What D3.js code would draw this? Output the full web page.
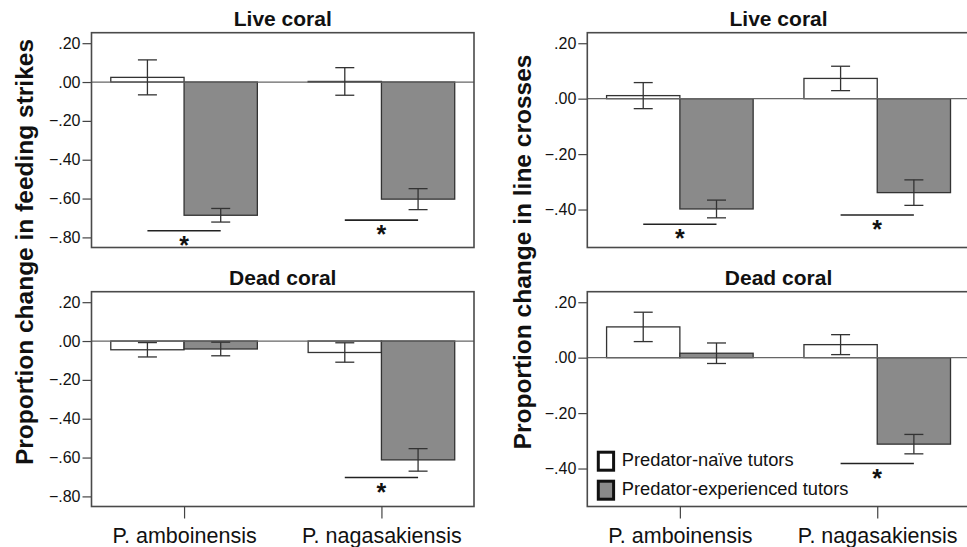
<!DOCTYPE html>
<html>
<head>
<meta charset="utf-8">
<script src="https://cdn.jsdelivr.net/npm/d3@7"></script>
<style>
  body { margin: 0; background: #fff; }
  svg { display: block; font-family: 'Liberation Sans', Arial, sans-serif; }
</style>
</head>
<body>
<div id="chart"></div>
<script>
// data (order: amb naive, amb exp, nag naive, nag exp)
const species = ['P. amboinensis', 'P. nagasakiensis'];
const tutors = ['Predator-naïve tutors', 'Predator-experienced tutors'];

const feedLiveMean = [0.024, -0.686, 0.003, -0.603];
const feedLiveErr = [0.09, 0.035, 0.071, 0.054];
const feedLiveSig = [-0.766, -0.711];

const feedDeadMean = [-0.045, -0.041, -0.059, -0.612];
const feedDeadErr = [0.037, 0.035, 0.05, 0.058];
const feedDeadSig = [null, -0.703];

const crossLiveMean = [0.011, -0.398, 0.073, -0.339];
const crossLiveErr = [0.047, 0.032, 0.044, 0.046];
const crossLiveSig = [-0.453, -0.42];

const crossDeadMean = [0.111, 0.016, 0.047, -0.312];
const crossDeadErr = [0.053, 0.037, 0.036, 0.035];
const crossDeadSig = [null, -0.382];

const feedTicks = [0.2, 0, -0.2, -0.4, -0.6, -0.8];
const crossTicks = [0.2, 0, -0.2, -0.4];
const feedDomain = [-0.852, 0.254];
const crossDomain = [-0.537, 0.238];

const W = 967;
const H = 547;
const pw = 382.5;
const ph = 214.8;

const svg = d3.select('#chart').append('svg')
  .attr('width', W)
  .attr('height', H);

function rows(mean, err) {
  const out = [];
  species.forEach((s, i) => {
    tutors.forEach((t, j) => {
      out.push({ s, t, v: mean[i * 2 + j], e: err[i * 2 + j] });
    });
  });
  return out;
}

function panel(opts) {
  const g = svg.append('g')
    .attr('transform', `translate(${opts.x}, ${opts.y})`);

  const x = d3.scalePoint().domain(species).range([0, pw]).padding(0.469);
  const bw = x.step() * 0.3713;
  const xt = d3.scaleBand().domain(tutors).range([-bw, bw]);
  const y = d3.scaleLinear().domain(opts.domain).range([ph, 0]);
  const data = rows(opts.mean, opts.err);

  // title
  g.append('text')
    .attr('x', pw / 2)
    .attr('y', -7)
    .attr('text-anchor', 'middle')
    .style('font-size', '21px')
    .style('font-weight', 'bold')
    .style('fill', '#111')
    .text(opts.title);

  // y axis
  const yAxis = d3.axisLeft(y)
    .tickValues(opts.ticks)
    .tickSize(9)
    .tickPadding(2)
    .tickFormat(d => d3.format('.2f')(d).replace('0.', '.'));

  const ya = g.append('g').call(yAxis);
  ya.select('.domain').remove();
  ya.selectAll('line').attr('stroke', '#444').attr('stroke-width', 1.2);
  ya.selectAll('text')
    .style('font-size', '16px')
    .style('fill', '#111');

  // bars
  g.selectAll('rect.bar')
    .data(data)
    .enter().append('rect')
    .attr('class', 'bar')
    .attr('x', d => x(d.s) + xt(d.t))
    .attr('width', xt.bandwidth())
    .attr('y', d => y(Math.max(0, d.v)))
    .attr('height', d => Math.abs(y(d.v) - y(0)))
    .attr('fill', d => (d.t === tutors[0] ? '#fff' : '#8a8a8a'))
    .attr('stroke', '#333')
    .attr('stroke-width', 1.3);

  // zero line
  g.append('line')
    .attr('x1', 0)
    .attr('x2', pw)
    .attr('y1', y(0))
    .attr('y2', y(0))
    .attr('stroke', '#666')
    .attr('stroke-width', 1.2);

  // error bars
  const eb = g.selectAll('g.err')
    .data(data)
    .enter().append('g')
    .attr('class', 'err')
    .attr('transform', d => `translate(${x(d.s) + xt(d.t) + xt.bandwidth() / 2}, 0)`)
    .attr('stroke', '#333')
    .attr('stroke-width', 1.3);

  eb.append('line')
    .attr('y1', d => y(d.v + d.e))
    .attr('y2', d => y(d.v - d.e));
  eb.append('line')
    .attr('x1', -9.5).attr('x2', 9.5)
    .attr('y1', d => y(d.v + d.e))
    .attr('y2', d => y(d.v + d.e));
  eb.append('line')
    .attr('x1', -9.5).attr('x2', 9.5)
    .attr('y1', d => y(d.v - d.e))
    .attr('y2', d => y(d.v - d.e));

  // significance marks
  const sig = species.map((s, i) => ({ s, v: opts.sig[i] })).filter(d => d.v !== null);
  const half = xt.bandwidth() / 2;

  g.selectAll('line.sig')
    .data(sig)
    .enter().append('line')
    .attr('class', 'sig')
    .attr('x1', d => x(d.s) - half)
    .attr('x2', d => x(d.s) + half)
    .attr('y1', d => y(d.v))
    .attr('y2', d => y(d.v))
    .attr('stroke', '#222')
    .attr('stroke-width', 1.6);

  g.selectAll('text.star')
    .data(sig)
    .enter().append('text')
    .attr('class', 'star')
    .attr('x', d => x(d.s))
    .attr('y', d => y(d.v) + 23)
    .attr('text-anchor', 'middle')
    .style('font-size', '25px')
    .style('font-weight', 'bold')
    .style('fill', '#111')
    .text('*');

  // frame
  g.append('rect')
    .attr('width', pw)
    .attr('height', ph)
    .attr('fill', 'none')
    .attr('stroke', '#4a4a4a')
    .attr('stroke-width', 1.6);

  // x axis only on bottom row
  if (opts.xAxis) {
    const xa = g.append('g')
      .attr('transform', `translate(0, ${ph})`)
      .call(d3.axisBottom(x).tickSize(12).tickPadding(9));
    xa.select('.domain').remove();
    xa.selectAll('line').attr('stroke', '#444').attr('stroke-width', 1.2);
    xa.selectAll('text')
      .style('font-size', '21.5px')
      .style('fill', '#111');
  }

  return g;
}

panel({ x: 91.5, y: 32.7, title: 'Live coral', mean: feedLiveMean, err: feedLiveErr, sig: feedLiveSig, domain: feedDomain, ticks: feedTicks });
panel({ x: 91.5, y: 291.7, title: 'Dead coral', mean: feedDeadMean, err: feedDeadErr, sig: feedDeadSig, domain: feedDomain, ticks: feedTicks, xAxis: true });
panel({ x: 587.3, y: 32.7, title: 'Live coral', mean: crossLiveMean, err: crossLiveErr, sig: crossLiveSig, domain: crossDomain, ticks: crossTicks });
const last = panel({ x: 587.3, y: 291.7, title: 'Dead coral', mean: crossDeadMean, err: crossDeadErr, sig: crossDeadSig, domain: crossDomain, ticks: crossTicks, xAxis: true });

// legend inside the last panel
const legend = last.append('g')
  .attr('transform', 'translate(11, 160.5)');

const li = legend.selectAll('g')
  .data(tutors)
  .enter().append('g')
  .attr('transform', (d, i) => `translate(0, ${i * 29})`);

li.append('rect')
  .attr('width', 15.3)
  .attr('height', 18)
  .attr('fill', (d, i) => (i === 0 ? '#fff' : '#8a8a8a'))
  .attr('stroke', '#111')
  .attr('stroke-width', 3);

li.append('text')
  .attr('x', 23.5)
  .attr('y', 14)
  .style('font-size', '18.3px')
  .style('fill', '#111')
  .text(d => d);

// y titles
[
  { x: 32.5, text: 'Proportion change in feeding strikes' },
  { x: 530.5, text: 'Proportion change in line crosses' }
].forEach(t => {
  svg.append('text')
    .attr('transform', `translate(${t.x}, 252) rotate(-90)`)
    .attr('text-anchor', 'middle')
    .style('font-size', '24.5px')
    .style('font-weight', 'bold')
    .style('fill', '#111')
    .text(t.text);
});
</script>
</body>
</html>
